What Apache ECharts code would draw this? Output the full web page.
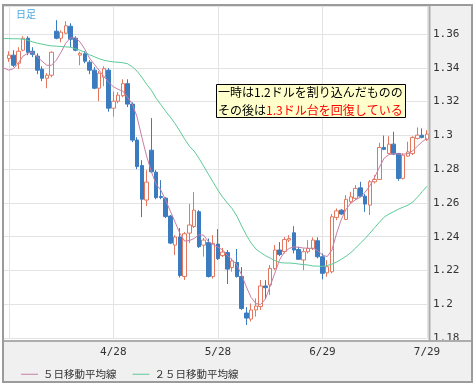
<!DOCTYPE html>
<html><head><meta charset="utf-8">
<script src="https://cdn.jsdelivr.net/npm/echarts@6/dist/echarts.min.js"></script>
<style>html,body{margin:0;padding:0;background:#fff}#c{width:475px;height:386px}</style>
</head><body><div id="c"></div>
<script>
const dates = ['3/26','3/29','3/30','3/31','4/1','4/2','4/5','4/6','4/7','4/8',
'4/9','4/12','4/13','4/14','4/15','4/16','4/19','4/20','4/21','4/22',
'4/23','4/26','4/27','4/28','4/29','4/30','5/3','5/4','5/5','5/6',
'5/7','5/10','5/11','5/12','5/13','5/14','5/17','5/18','5/19','5/20',
'5/21','5/24','5/25','5/26','5/27','5/28','5/31','6/1','6/2','6/3',
'6/4','6/7','6/8','6/9','6/10','6/11','6/14','6/15','6/16','6/17',
'6/18','6/21','6/22','6/23','6/24','6/25','6/28','6/29','6/30','7/1',
'7/2','7/5','7/6','7/7','7/8','7/9','7/12','7/13','7/14','7/15',
'7/16','7/19','7/20','7/21','7/22','7/23','7/26','7/27','7/28','7/29'];

const open = [null,1.3455,1.3475,1.3427,1.3504,1.3575,1.3498,1.3469,1.3392,1.3338,
1.3356,1.3617,1.3575,1.3605,1.3646,1.3575,1.3475,1.3483,1.3433,1.3386,
1.3279,1.3344,1.3386,1.3161,1.3202,1.3235,1.3306,1.3185,1.2972,1.2821,
1.2617,1.2912,1.2782,1.2638,1.2628,1.2522,1.2350,1.2398,1.2164,1.2421,
1.2460,1.2548,1.2350,1.2365,1.2164,1.2356,1.2288,1.2306,1.2217,1.2247,
1.2164,1.1948,1.1912,1.1966,1.1986,1.2108,1.2114,1.2211,1.2321,1.2312,
1.2380,1.2423,1.2324,1.2262,1.2311,1.2331,1.2376,1.2281,1.2186,1.2192,
1.2514,1.2557,1.2502,1.2607,1.2627,1.2689,1.2640,1.2587,1.2725,1.2739,
1.2928,1.2893,1.2948,1.2893,1.2745,1.2877,1.2893,1.2982,1.3001,1.2976];

const close = [null,1.3475,1.3415,1.3498,1.3575,1.3492,1.3480,1.3386,1.3338,1.3356,
1.3492,1.3575,1.3611,1.3649,1.3569,1.3504,1.3486,1.3439,1.3386,1.3279,
1.3368,1.3395,1.3161,1.3202,1.3238,1.3306,1.3185,1.2972,1.2815,1.2622,
1.2723,1.2784,1.2631,1.2632,1.2519,1.2362,1.2398,1.2170,1.2418,1.2469,
1.2557,1.2341,1.2380,1.2164,1.2360,1.2270,1.2309,1.2208,1.2256,1.2164,
1.1975,1.1918,1.1966,1.1989,1.2108,1.2098,1.2212,1.2321,1.2294,1.2383,
1.2389,1.2321,1.2266,1.2311,1.2331,1.2380,1.2281,1.2183,1.2222,1.2518,
1.2553,1.2534,1.2621,1.2636,1.2686,1.2640,1.2593,1.2725,1.2739,1.2928,
1.2917,1.2948,1.2889,1.2745,1.2883,1.2902,1.2988,1.3001,1.2988,1.3007];

const low = [null,1.3435,1.3404,1.3392,1.3498,1.3475,1.3463,1.3362,1.3321,1.3279,
1.3344,1.3569,1.3551,1.3599,1.3522,1.3498,1.3415,1.3427,1.3362,1.3273,
1.3202,1.3291,1.3140,1.3111,1.3190,1.3226,1.3167,1.2960,1.2800,1.2516,
1.2581,1.2776,1.2622,1.2622,1.2510,1.2356,1.2291,1.2158,1.2143,1.2362,
1.2451,1.2333,1.2282,1.2158,1.2152,1.2262,1.2279,1.2120,1.2193,1.2158,
1.1966,1.1877,1.1898,1.1927,1.1966,1.2030,1.2054,1.2202,1.2285,1.2300,
1.2368,1.2301,1.2262,1.2202,1.2301,1.2321,1.2272,1.2147,1.2163,1.2183,
1.2498,1.2528,1.2498,1.2597,1.2617,1.2633,1.2547,1.2528,1.2715,1.2735,
1.2912,1.2889,1.2883,1.2731,1.2739,1.2873,1.2883,1.2976,1.2982,1.2967];

const high = [null,1.3498,1.3504,1.3522,1.3587,1.3587,1.3522,1.3486,1.3409,1.3368,
1.3498,1.3682,1.3622,1.3676,1.3664,1.3587,1.3495,1.3498,1.3445,1.3404,
1.3380,1.3409,1.3398,1.3259,1.3256,1.3332,1.3332,1.3196,1.2989,1.2853,
1.2794,1.3102,1.2794,1.2735,1.2634,1.2528,1.2409,1.2451,1.2427,1.2593,
1.2664,1.2557,1.2392,1.2389,1.2409,1.2445,1.2333,1.2321,1.2270,1.2327,
1.2220,1.1983,1.2004,1.2034,1.2143,1.2143,1.2232,1.2350,1.2368,1.2398,
1.2409,1.2462,1.2340,1.2331,1.2380,1.2396,1.2396,1.2301,1.2262,1.2534,
1.2567,1.2563,1.2646,1.2666,1.2705,1.2725,1.2652,1.2735,1.2764,1.2956,
1.2999,1.2995,1.3021,1.2896,1.2893,1.2962,1.2995,1.3047,1.3041,1.3031];

const ma5 = [1.3398,1.3386,1.3395,1.3427,1.3469,1.3486,1.3492,1.3466,1.3439,1.3415,
1.3415,1.3445,1.3492,1.3546,1.3578,1.3578,1.3553,1.3510,1.3457,1.3421,
1.3386,1.3350,1.3315,1.3288,1.3273,1.3262,1.3226,1.3185,1.3108,1.2989,
1.2877,1.2785,1.2711,1.2676,1.2617,1.2551,1.2486,1.2421,1.2374,1.2377,
1.2389,1.2412,1.2409,1.2371,1.2353,1.2338,1.2321,1.2288,1.2264,1.2232,
1.2173,1.2102,1.2040,1.2004,1.1998,1.2031,1.2108,1.2185,1.2264,1.2309,
1.2330,1.2340,1.2337,1.2333,1.2331,1.2331,1.2318,1.2291,1.2282,1.2321,
1.2421,1.2504,1.2563,1.2599,1.2619,1.2634,1.2664,1.2702,1.2753,1.2812,
1.2865,1.2886,1.2892,1.2889,1.2889,1.2892,1.2909,1.2936,1.2963,1.2982];

const ma25 = [1.3573,1.3573,1.3572,1.3572,1.3569,1.3563,1.3554,1.3546,1.3540,1.3534,
1.3530,1.3528,1.3526,1.3524,1.3522,1.3513,1.3504,1.3492,1.3477,1.3466,
1.3454,1.3445,1.3439,1.3435,1.3433,1.3430,1.3424,1.3406,1.3380,1.3344,
1.3303,1.3267,1.3220,1.3182,1.3143,1.3108,1.3069,1.3025,1.2978,1.2936,
1.2907,1.2865,1.2818,1.2770,1.2723,1.2676,1.2634,1.2599,1.2566,1.2522,
1.2463,1.2409,1.2362,1.2327,1.2306,1.2288,1.2273,1.2259,1.2247,1.2244,
1.2244,1.2242,1.2238,1.2235,1.2232,1.2226,1.2226,1.2224,1.2229,1.2238,
1.2250,1.2267,1.2285,1.2306,1.2333,1.2362,1.2389,1.2421,1.2454,1.2486,
1.2516,1.2534,1.2548,1.2563,1.2575,1.2587,1.2605,1.2634,1.2667,1.2699];

const gridDates = ['3/29','4/28','5/28','6/29','7/29'];
const tickLabels = ['4/28','5/28','6/29','7/29'];
const seriesNames = ['５日移動平均線','２５日移動平均線'];
const periodLabel = '日足';
const noteLine1 = '一時は1.2ドルを割り込んだものの';
const noteLine2a = 'その後は';
const noteLine2b = '1.3ドル台を回復している';

const candles = dates.map((d, i) => open[i] == null ? '-' : [open[i], close[i], low[i], high[i]]);

const JP = '"Noto Sans CJK JP", sans-serif';
const MONO = '"DejaVu Sans Mono", monospace';
const chart = echarts.init(document.getElementById('c'), null, {renderer: 'canvas'});
chart.setOption({
  animation: false,
  backgroundColor: '#ffffff',
  grid: {left: 4, top: 6, width: 423, height: 332, containLabel: false, outerBoundsMode: 'none'},
  xAxis: {
    type: 'category', data: dates, boundaryGap: false,
    axisLine: {show: false}, axisTick: {show: false},
    axisLabel: {interval: (i, v) => tickLabels.includes(v), margin: 9, color: '#333', fontFamily: MONO, fontSize: 11, hideOverlap: false},
    splitLine: {show: true, interval: (i, v) => gridDates.includes(v), lineStyle: {color: '#e3e3e3', width: 1}}
  },
  yAxis: {
    type: 'value', position: 'right', min: 1.18, max: 1.3766, interval: 0.02,
    axisLine: {show: false}, axisTick: {show: false},
    axisLabel: {showMaxLabel: false, showMinLabel: true, margin: 6, color: '#333', fontFamily: MONO, fontSize: 11},
    splitLine: {show: true, lineStyle: {color: '#e3e3e3', width: 1}}
  },
  legend: {
    data: seriesNames, left: 16, top: 364, icon: 'rect', itemWidth: 17, itemHeight: 1, itemGap: 16,
    selectedMode: false, textStyle: {fontSize: 10.5, color: '#333', fontFamily: JP}
  },
  series: [
    {type: 'candlestick', data: candles, barWidth: 4, clip: false,
     itemStyle: {color: '#ffffff', color0: '#3b7cc0', borderColor: '#e4785e', borderColor0: '#3b7cc0', borderWidth: 1}},
    {type: 'line', name: seriesNames[0], data: ma5, symbol: 'none', color: '#c97ea4',
     lineStyle: {width: 1, color: '#c97ea4'}, itemStyle: {color: '#c97ea4'}},
    {type: 'line', name: seriesNames[1], data: ma25, symbol: 'none', color: '#5ccb97',
     lineStyle: {width: 1, color: '#5ccb97'}, itemStyle: {color: '#5ccb97'}}
  ],
  graphic: [
    {type: 'rect', z: -1, silent: true, shape: {x: 430, y: 5, width: 42, height: 336}, style: {fill: '#f0f0f0'}},
    {type: 'rect', z: -1, silent: true, shape: {x: 3, y: 341, width: 469, height: 41}, style: {fill: '#f0f0f0'}},
    {type: 'line', z: 50, silent: true, shape: {x1: 429.5, y1: 5, x2: 429.5, y2: 341}, style: {stroke: '#adadad', lineWidth: 2}},
    {type: 'line', z: 50, silent: true, shape: {x1: 3, y1: 341, x2: 472, y2: 341}, style: {stroke: '#adadad', lineWidth: 2}},
    {type: 'rect', z: 50, silent: true, shape: {x: 3, y: 5, width: 469, height: 377}, style: {fill: null, stroke: '#9b9b9b', lineWidth: 2}},
    {type: 'text', z: 50, silent: true, x: 16, y: 9, style: {text: periodLabel, fill: '#4aa8e0', fontSize: 10, fontFamily: JP, align: 'left', verticalAlign: 'top'}},
    {type: 'rect', z: 60, silent: true, shape: {x: 216.5, y: 84.5, width: 189, height: 33}, style: {fill: '#ffffcc', stroke: '#000', lineWidth: 1}},
    {type: 'text', z: 61, silent: true, x: 218, y: 92.5, style: {text: noteLine1, fill: '#000', fontSize: 12, fontFamily: JP, align: 'left', verticalAlign: 'middle'}},
    {type: 'text', z: 61, silent: true, x: 218, y: 110.5, style: {
      text: '{a|' + noteLine2a + '}{b|' + noteLine2b + '}', align: 'left', verticalAlign: 'middle', fontSize: 12, fontFamily: JP,
      rich: {a: {fill: '#000', color: '#000', fontSize: 12, fontFamily: JP}, b: {fill: '#ff0000', color: '#ff0000', fontSize: 12, fontFamily: JP}}}}
  ]
});
</script></body></html>
